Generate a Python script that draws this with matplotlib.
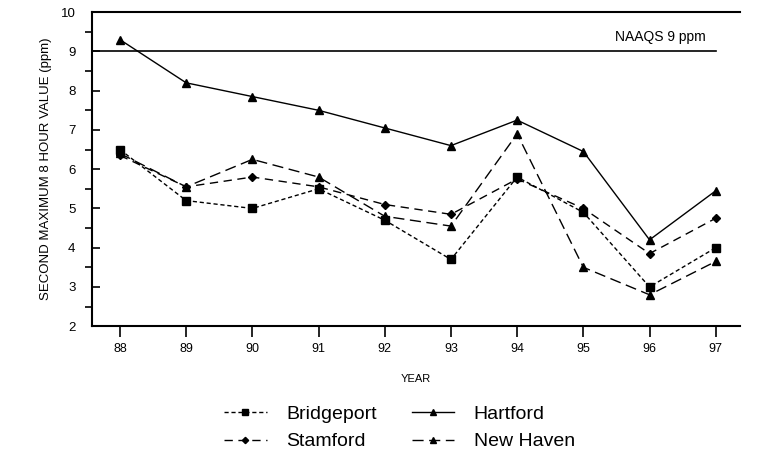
import numpy as np
import matplotlib
matplotlib.use("Agg")
import matplotlib.pyplot as plt
from matplotlib.ticker import MultipleLocator

plt.rcParams['font.family'] = ['Liberation Sans', 'DejaVu Sans']

years = [88, 89, 90, 91, 92, 93, 94, 95, 96, 97]
bridgeport = [6.5, 5.2, 5.0, 5.5, 4.7, 3.7, 5.8, 4.9, 3.0, 4.0]
stamford = [6.35, 5.55, 5.8, 5.55, 5.1, 4.85, 5.75, 5.0, 3.85, 4.75]
hartford = [9.3, 8.2, 7.85, 7.5, 7.05, 6.6, 7.25, 6.45, 4.2, 5.45]
new_haven = [6.4, 5.55, 6.25, 5.8, 4.8, 4.55, 6.9, 3.5, 2.8, 3.65]
naaqs = 9

fig = plt.figure(figsize=(7.68, 4.68), dpi=100)
ax = fig.add_axes([0.12, 0.303, 0.843, 0.671])

# standard line
ax.plot([87.58, 97], [naaqs, naaqs], color='black', lw=1.2)
ax.text(96.85, 9.38, 'NAAQS 9 ppm', ha='right', va='center', fontsize=10)

lb, = ax.plot(years, bridgeport, color='black', lw=1, ls=(0, (3, 2)),
              marker='s', ms=6, label='Bridgeport')
ls_, = ax.plot(years, stamford, color='black', lw=1, ls=(0, (6, 4)),
               marker='D', ms=4, label='Stamford')
lh, = ax.plot(years, hartford, color='black', lw=1, ls='-',
              marker='^', ms=6, label='Hartford')
ln, = ax.plot(years, new_haven, color='black', lw=1, ls=(0, (8, 4)),
              marker='^', ms=6, label='New Haven')

ax.set_xlim(87.58, 97.36)
ax.set_ylim(2, 10)
ax.set_xticks(years)
ax.yaxis.set_major_locator(MultipleLocator(1))
ax.yaxis.set_minor_locator(MultipleLocator(0.5))
ax.tick_params(axis='y', which='major', direction='in', length=6, width=1.2,
               labelsize=9.5, pad=12)
ax.tick_params(axis='y', which='minor', direction='out', length=5, width=1.2)
ax.tick_params(axis='x', direction='out', length=8, width=1.2, labelsize=9, pad=4)
ax.spines['right'].set_visible(False)
for s in ['left', 'top', 'bottom']:
    ax.spines[s].set_linewidth(1.5)

ax.set_xlabel('YEAR', fontsize=8, labelpad=14)
ax.set_ylabel('SECOND MAXIMUM 8 HOUR VALUE (ppm)', fontsize=9.5, labelpad=6)

fig.legend(handles=[lb, ls_, lh, ln], loc='lower center', ncol=2,
           bbox_to_anchor=(0.52, 0.0), frameon=False, fontsize=14,
           handlelength=2.2, handletextpad=1.0, columnspacing=1.8,
           labelspacing=0.5, markerscale=0.8)

fig.savefig('out.png', dpi=100)
